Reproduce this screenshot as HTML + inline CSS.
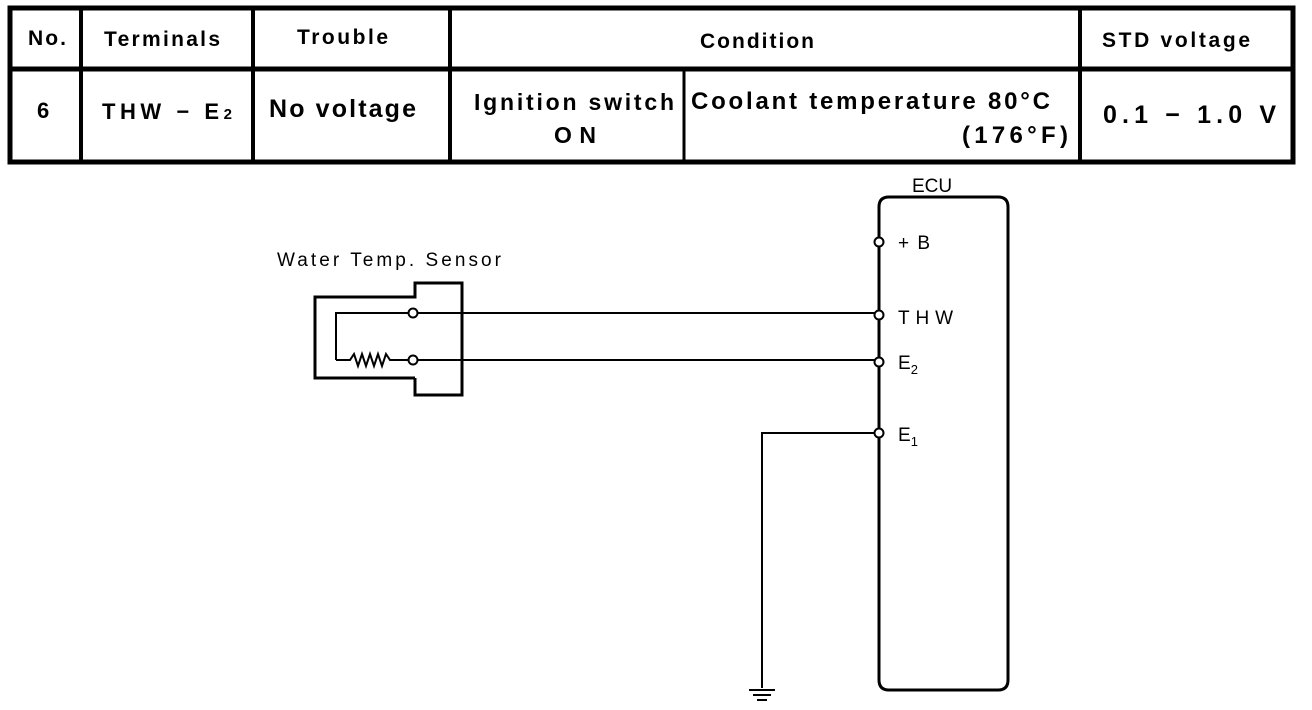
<!DOCTYPE html>
<html><head><style>
html,body{margin:0;padding:0;background:#fff;}
svg{display:block;}
text{font-family:"Liberation Sans",sans-serif;fill:#000;}
</style></head><body>
<svg width="1312" height="710" viewBox="0 0 1312 710" xmlns="http://www.w3.org/2000/svg">
<g stroke="#000" fill="none">
<rect x="10" y="8" width="1283" height="154" stroke-width="5"/>
<line x1="10" y1="69" x2="1293" y2="69" stroke-width="5"/>
<line x1="81" y1="8" x2="81" y2="162" stroke-width="4"/>
<line x1="253" y1="8" x2="253" y2="162" stroke-width="4"/>
<line x1="450" y1="8" x2="450" y2="162" stroke-width="4"/>
<line x1="684" y1="69" x2="684" y2="162" stroke-width="3"/>
<line x1="1080" y1="8" x2="1080" y2="162" stroke-width="4"/>
</g>
<g font-weight="bold" font-size="21" lengthAdjust="spacing">
<text x="28" y="45" textLength="38" lengthAdjust="spacing">No.</text>
<text x="104" y="46" textLength="116" lengthAdjust="spacing">Terminals</text>
<text x="297" y="44" textLength="91" lengthAdjust="spacing">Trouble</text>
<text x="700" y="48" textLength="114" lengthAdjust="spacing">Condition</text>
<text x="1102" y="47" textLength="148" lengthAdjust="spacing">STD voltage</text>
<text x="37" y="118" font-size="22">6</text>
<text x="102" y="119" font-size="22" textLength="130" lengthAdjust="spacing">THW − E<tspan font-size="15">2</tspan></text>
<text x="269" y="117" font-size="25" textLength="147" lengthAdjust="spacing">No voltage</text>
<text x="474" y="110" font-size="23" textLength="200" lengthAdjust="spacing">Ignition switch</text>
<text x="554" y="143" font-size="23" textLength="42" lengthAdjust="spacing">ON</text>
<text x="691" y="109" font-size="24" textLength="359" lengthAdjust="spacing">Coolant temperature 80°C</text>
<text x="962" y="143" font-size="24" textLength="106" lengthAdjust="spacing">(176°F)</text>
<text x="1103" y="123" font-size="25" textLength="173" lengthAdjust="spacing">0.1 − 1.0 V</text>
</g>
<g font-size="19">
<text x="912" y="192">ECU</text>
<text x="277" y="266" textLength="224" lengthAdjust="spacing">Water Temp. Sensor</text>
<text x="898" y="249" textLength="32" lengthAdjust="spacing">+B</text>
<text x="898" y="324" textLength="55" lengthAdjust="spacing">THW</text>
<text x="898" y="369">E<tspan font-size="13" dy="5">2</tspan></text>
<text x="898" y="441">E<tspan font-size="13" dy="5">1</tspan></text>
</g>
<g stroke="#000" fill="none">
<path d="M879 207 Q879 197 889 197 L998 197 Q1008 197 1008 207 L1008 680 Q1008 690 998 690 L889 690 Q879 690 879 680 Z" stroke-width="3"/>
<path d="M415 378 L315 378 L315 297 L415 297 L415 283 L462 283 L462 395 L415 395 L415 378" stroke-width="3"/>
<path d="M336 360 L336 313 L408 313" stroke-width="2"/>
<path d="M418 313 L875 313" stroke-width="2"/>
<path d="M336 360 L350 360 L354 354 L358 366 L362 354 L366 366 L370 354 L374 366 L378 354 L382 366 L386 354 L390 360 L408 360" stroke-width="2"/>
<path d="M418 360 L875 360" stroke-width="2"/>
<path d="M762 688 L762 433 L875 433" stroke-width="2"/>
<line x1="749" y1="690" x2="775" y2="690" stroke-width="2"/>
<line x1="753" y1="695" x2="771" y2="695" stroke-width="2"/>
<line x1="757" y1="700" x2="767" y2="700" stroke-width="2"/>
</g>
<g stroke="#000" fill="#fff" stroke-width="2">
<circle cx="413" cy="313" r="4.5"/>
<circle cx="413" cy="360" r="4.5"/>
<circle cx="879" cy="242" r="4.5"/>
<circle cx="879" cy="315" r="4.5"/>
<circle cx="879" cy="362" r="4.5"/>
<circle cx="879" cy="433" r="4.5"/>
</g>
</svg>
</body></html>
